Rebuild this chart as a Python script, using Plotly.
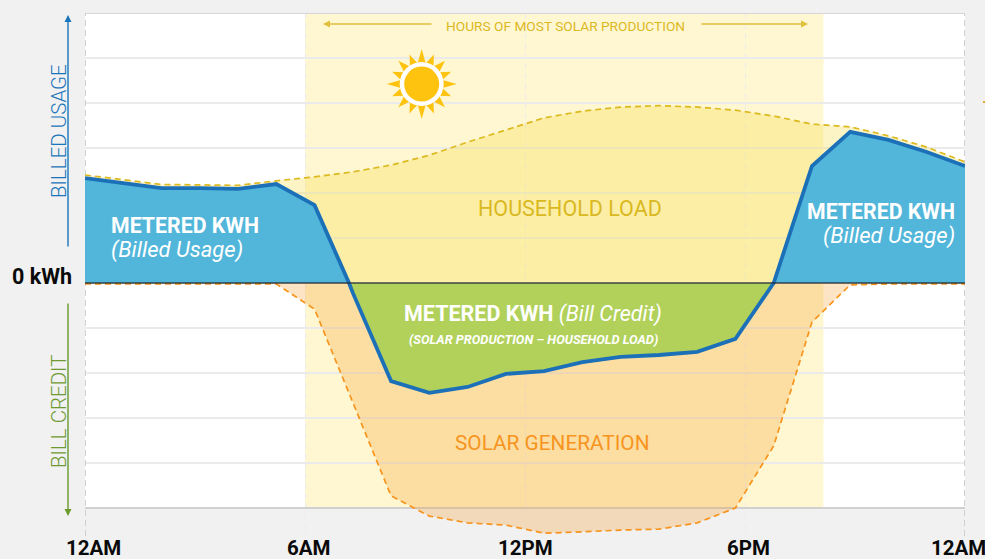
import math
import plotly.graph_objects as go

# ---- data (index = sample along the day, 0..23) ----
sample_index = list(range(24))
household_load = [2.40, 2.29, 2.19, 2.18, 2.17, 2.27, 2.36, 2.47, 2.62, 2.84, 3.13, 3.40,
                  3.67, 3.82, 3.91, 3.94, 3.91, 3.84, 3.71, 3.53, 3.47, 3.27, 3.02, 2.69]
solar_generation = [-0.02, -0.02, -0.02, -0.02, -0.02, -0.02, -0.58, -2.64, -4.73, -5.18, -5.33, -5.38,
                    -5.56, -5.53, -5.49, -5.47, -5.33, -5.00, -3.62, -0.87, -0.04, -0.02, -0.02, -0.02]
metered_index = [0, 1, 2, 3, 4, 5, 6, 6.9, 7, 8, 9, 10, 11, 12, 13, 14, 15, 16, 17, 18, 19, 20, 21, 22, 23]
metered_kwh = [2.33, 2.22, 2.11, 2.11, 2.09, 2.20, 1.73, 0, -0.22, -2.18, -2.44, -2.31, -2.02,
               -1.96, -1.76, -1.64, -1.60, -1.53, -1.24, 0, 2.60, 3.36, 3.18, 2.91, 2.60]
tick_positions = [0, 5.75, 11.5, 17.25, 23]
tick_labels = ["12AM", "6AM", "12PM", "6PM", "12AM"]
tick_label_px = [93, 308, 525, 748, 958]
grid_levels = [-4, -3, -2, -1, 0, 1, 2, 3, 4, 5]
solar_hours_band = [5.75, 19.3]

W, H = 985, 559
L, R, T, B = 85, 965, 13, 536
Y_MAX, Y_MIN = 6, (283 - 536) / 45
FONT = "Roboto"

def hx(px):
    return (px - L) / ((R - L) / 23)

def vy(py):
    return (283 - py) / 45

def paper_x(px):
    return (px - L) / (R - L)

def paper_y(py):
    return (B - py) / (B - T)

fig = go.Figure()

def area(x, y, fill):
    fig.add_trace(go.Scatter(
        x=x, y=y, mode="lines", fill="tozeroy", fillcolor=fill,
        line=dict(color="rgba(0,0,0,0)", width=0, simplify=False),
        hoverinfo="skip", showlegend=False))

area(sample_index, solar_generation, "rgba(248,146,20,0.25)")
area(sample_index, household_load, "rgba(248,220,66,0.30)")
area(metered_index, [min(v, 0) for v in metered_kwh], "#b1d15b")
area(metered_index, [max(v, 0) for v in metered_kwh], "#52b6da")
for y, c in ((solar_generation, "#f7941e"), (household_load, "#dcb91f")):
    fig.add_trace(go.Scatter(x=sample_index, y=y, mode="lines",
                             line=dict(color=c, width=1.7, dash="6px,4px"),
                             hoverinfo="skip", showlegend=False))
fig.add_trace(go.Scatter(x=metered_index, y=metered_kwh, mode="lines",
                         line=dict(color="#1b70b8", width=3.8, simplify=False),
                         hoverinfo="skip", showlegend=False))

shapes = [
    dict(type="rect", layer="below", x0=0, x1=23, y0=-5, y1=6, fillcolor="#ffffff", line_width=0),
    dict(type="rect", layer="below", x0=solar_hours_band[0], x1=solar_hours_band[1], y0=-5, y1=6,
         fillcolor="#fff7d2", line_width=0),
    dict(type="line", layer="between", x0=0, x1=23, y0=6, y1=6, line=dict(color="#d6d6d6", width=2)),
    dict(type="line", layer="between", x0=0, x1=23, y0=-5, y1=-5, line=dict(color="#d0d0d0", width=2)),
    dict(type="line", layer="above", x0=0, x1=23, y0=0, y1=0, line=dict(color="rgba(35,45,50,0.85)", width=1.5)),
]
for xe in (0, 23):
    shapes.append(dict(type="line", layer="between", x0=xe, x1=xe, y0=Y_MIN, y1=6,
                       line=dict(color="#cfcfcf", width=2, dash="6px,4px")))

# sun
cx, cy = 421.7, 84
pts = []
for k in range(16):
    a = k * math.pi / 8
    tip = 35 if k % 4 == 0 else (33 if k % 2 == 0 else 32)
    for ang, r in ((a - 0.17, 22), (a, tip), (a + 0.17, 22)):
        pts.append((cx + r * math.cos(ang), cy + r * math.sin(ang)))
path = "M " + " L ".join(f"{hx(px):.4f},{vy(py):.4f}" for px, py in pts) + " Z"
shapes.append(dict(type="path", layer="above", path=path, fillcolor="#fec30f", line_width=0))

def circ(r, col):
    return dict(type="circle", layer="above", x0=hx(cx - r), x1=hx(cx + r),
                y0=vy(cy + r), y1=vy(cy - r), fillcolor=col, line_width=0)

shapes += [circ(22, "#ffffff"), circ(17.5, "#fec30f")]
# clipped arrow tip at the right edge
shapes.append(dict(type="line", xref="paper", yref="paper", x0=paper_x(983), x1=paper_x(985),
                   y0=paper_y(102), y1=paper_y(102), line=dict(color="#e8a92c", width=2)))

ann = []

def text(px, py, s, size, color, anchor="center", weight=None, angle=0, italic=False):
    f = dict(family=FONT, size=size, color=color)
    if weight:
        f["weight"] = weight
    if italic:
        f["style"] = "italic"
    ann.append(dict(x=paper_x(px), y=paper_y(py), xref="paper", yref="paper", text=s, showarrow=False, font=f,
                    xanchor=anchor, yanchor="middle", textangle=angle, align="center",
                    borderpad=0, borderwidth=0))

def arrow(x0, y0, x1, y1, color):
    ann.append(dict(x=paper_x(x1), y=paper_y(y1), ax=x0 - x1, ay=y0 - y1,
                    xref="paper", yref="paper", axref="pixel", ayref="pixel",
                    text="", showarrow=True, arrowhead=2, arrowsize=1, arrowwidth=1.4, arrowcolor=color))

arrow(68, 248, 68, 15, "#1b75bb")
arrow(68, 302, 68, 516, "#6a9a2b")
arrow(433, 24, 323, 24, "#e0bf3a")
arrow(700, 24, 808, 24, "#e0bf3a")
text(59, 131, "BILLED USAGE", 20.5, "#1b75bb", angle=-90, weight=300)
text(59, 411, "BILL CREDIT", 20.5, "#6f9a33", angle=-90, weight=300)
text(565, 26, "HOURS OF MOST SOLAR PRODUCTION", 13.7, "#dcb91f")
text(570, 208, "HOUSEHOLD LOAD", 21.5, "#d9b91f")
text(552.5, 443, "SOLAR GENERATION", 20.8, "#f7941e")
text(111, 225.5, "<b>METERED KWH</b>", 21.3, "#ffffff", anchor="left")
text(111, 249.5, "(Billed Usage)", 22, "#ffffff", anchor="left", italic=True)
text(955, 212, "<b>METERED KWH</b>", 21.3, "#ffffff", anchor="right")
text(955, 236, "(Billed Usage)", 22, "#ffffff", anchor="right", italic=True)
text(532.5, 314, "<b>METERED KWH</b> <i>(Bill Credit)</i>", 21.5, "#ffffff")
text(533, 339, "<b><i>(SOLAR PRODUCTION – HOUSEHOLD LOAD)</i></b>", 12.8, "#ffffff")
text(72, 276, "<b>0 kWh</b>", 21.5, "#0a0a0a", anchor="right")
for px, lab in zip(tick_label_px, tick_labels):
    text(px, 547.5, f"<b>{lab}</b>", 20.5, "#0a0a0a")

fig.update_layout(
    width=W, height=H, autosize=False,
    margin=dict(l=L, r=W - R, t=T, b=H - B, pad=0),
    paper_bgcolor="#f1f1f1", plot_bgcolor="#f1f1f1",
    showlegend=False, shapes=shapes, annotations=ann,
    font=dict(family=FONT),
    xaxis=dict(range=[0, 23], tickvals=tick_positions, ticktext=[""] * 5, showgrid=True,
               gridcolor="#ececec", griddash="6px,4px", gridwidth=1.2, zeroline=False,
               showline=False, ticks="", fixedrange=True),
    yaxis=dict(range=[Y_MIN, Y_MAX], tickvals=grid_levels, ticktext=[""] * len(grid_levels), showgrid=True,
               gridcolor="#ebebeb", gridwidth=2, zeroline=False, showline=False, ticks="", fixedrange=True),
)

fig.write_html("out.html", config=dict(displayModeBar=False),
               post_script="document.body.style.margin='0';")
